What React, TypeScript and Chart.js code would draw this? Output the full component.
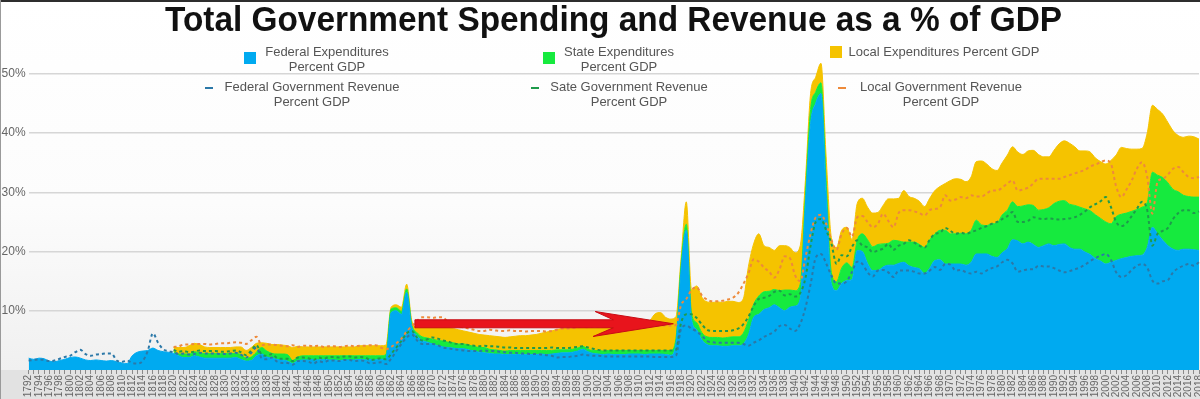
import React, { useEffect, useRef } from 'react';
import { Chart, registerables } from 'chart.js';

Chart.register(...registerables);

const FONT = '"Liberation Sans", Arial, Helvetica, sans-serif';
const TITLE = 'Total Government Spending and Revenue as a % of GDP';
const FIRST_YEAR = 1792;
const YEAR_COUNT = 227; // 1792 .. 2018
const YEARS: string[] = Array.from({ length: YEAR_COUNT }, (_, i) => String(FIRST_YEAR + i));
const Y_TICKS = [10, 20, 30, 40, 50];

const SERIES_LINES: string[][] = [
  ['Federal Expenditures', 'Percent GDP'],
  ['State Expenditures', 'Percent GDP'],
  ['Local Expenditures Percent GDP'],
  ['Federal Government Revenue', 'Percent GDP'],
  ['Sate Government Revenue', 'Percent GDP'],
  ['Local Government Revenue', 'Percent GDP'],
];

const COLORS = ['#00AAF0', '#16EA3E', '#F5C300', '#2B78A8', '#1E9B4B', '#EE8A3A'];

// ---- Expenditures (% of GDP, stacked) ----
const fedExp: number[] = [
  2.0, 1.8, 2.0, 1.9, 1.5, 1.4, 1.6, 1.8, 2.1, 2.2, // 1792-1801
  2.0, 1.7, 1.6, 1.7, 1.6, 1.5, 1.6, 1.4, 1.2, 1.1, // 1802-1811
  2.4, 3.0, 3.2, 3.3, 3.7, 3.3, 3.1, 3.0, // 1812-1819
  2.8, 2.4, 2.1, 2.1, 2.4, 2.2, 2.0, 2.0, 2.0, 2.0, // 1820s
  2.0, 2.0, 2.1, 1.8, 1.5, 1.6, 2.4, 2.7, 2.2, 2.0, // 1830s
  1.8, 1.7, 1.5, 1.1, 1.6, 1.7, 1.7, 1.8, 1.7, 1.8, // 1840s
  1.7, 1.7, 1.6, 1.7, 1.7, 1.7, 1.8, 1.7, 1.8, 1.7, // 1850s
  1.8, 2.0, 9.7, 10.0, 9.4, 13.1, 7.2, 5.8, 5.0, 4.7, // 1860s
  4.4, 4.1, 3.9, 3.8, 3.7, 3.6, 3.6, 3.4, 3.2, 3.0, // 1870s
  2.9, 2.8, 2.7, 2.7, 2.6, 2.6, 2.6, 2.6, 2.6, 2.6, // 1880s
  2.6, 2.7, 2.6, 2.7, 2.8, 2.9, 2.9, 3.0, 3.2, 3.5, // 1890s
  3.1, 2.8, 2.7, 2.6, 2.7, 2.6, 2.6, 2.6, 2.7, 2.7, // 1900s
  2.7, 2.6, 2.7, 2.7, 2.7, 2.6, 2.5, 4.5, 17.0, 23.6, // 1910s
  8.6, 6.8, 5.1, 4.3, 4.1, 4.1, 4.0, 4.0, 4.1, 4.1, // 1920s
  4.4, 5.9, 8.9, 9.4, 10.2, 10.5, 11.0, 10.5, 10.0, 10.6, // 1930s
  10.8, 12.0, 28.0, 41.6, 45.1, 46.7, 30.0, 14.6, 13.4, 14.6, // 1940s
  15.1, 15.3, 20.2, 20.0, 18.0, 16.8, 16.8, 17.4, 17.7, 17.7, // 1950s
  18.0, 18.2, 17.6, 17.3, 17.1, 16.3, 17.2, 18.5, 18.6, 17.9, // 1960s
  17.9, 17.9, 17.9, 17.7, 18.2, 19.6, 19.6, 19.6, 19.2, 19.0, // 1970s
  19.8, 20.5, 22.0, 21.8, 21.3, 21.6, 21.2, 20.7, 21.0, 21.3, // 1980s
  21.0, 21.2, 21.3, 20.7, 20.4, 20.4, 19.9, 19.5, 18.8, 18.4, // 1990s
  17.9, 18.2, 18.5, 18.8, 19.0, 19.2, 19.3, 19.4, 20.7, 24.1, // 2000s
  23.0, 21.9, 21.0, 20.4, 20.2, 20.4, 20.4, 20.3, 20.2, // 2010-2018
];

const stateExp: (number | null)[] = [
  null, null, null, null, null, null, null, null, null, null,
  null, null, null, null, null, null, null, null, null, null,
  null, null, null, null, null, null, null, null,
  0.3, 0.3, 0.6, 0.6, 0.7, 0.7, 0.8, 0.8, 0.8, 0.8,
  0.8, 0.8, 0.7, 0.8, 0.5, 0.6, 0.6, 1.1, 1.0, 0.8,
  0.9, 1.0, 1.1, 0.5, 0.6, 0.7, 0.7, 0.6, 0.7, 0.6,
  0.7, 0.7, 0.8, 0.7, 0.7, 0.7, 0.6, 0.7, 0.6, 0.7,
  0.6, 0.6, 0.6, 0.5, 0.5, 0.6, 0.5, 0.5, 0.6, 0.7,
  0.8, 0.9, 1.0, 0.9, 0.9, 0.8, 0.8, 0.8, 0.8, 0.8,
  0.9, 0.7, 0.7, 0.6, 0.6, 0.7, 0.7, 0.7, 0.7, 0.7,
  0.7, 0.6, 0.7, 0.6, 0.6, 0.5, 0.5, 0.5, 0.5, 0.5,
  0.4, 0.5, 0.6, 0.6, 0.6, 0.7, 0.7, 0.7, 0.6, 0.6,
  0.6, 0.7, 0.6, 0.6, 0.6, 0.7, 0.8, 0.8, 1.0, 1.0,
  1.0, 1.2, 1.2, 1.3, 1.4, 1.4, 1.4, 1.5, 1.5, 1.5,
  1.8, 2.5, 2.2, 3.1, 3.0, 2.8, 2.6, 2.9, 3.5, 2.9,
  2.6, 2.5, 1.5, 2.4, 1.9, 1.8, 2.0, 1.9, 1.5, 2.6,
  3.0, 2.0, 1.7, 3.0, 4.0, 4.0, 4.4, 3.9, 3.7, 4.2,
  3.8, 3.4, 4.0, 4.3, 4.1, 4.4, 4.8, 4.5, 5.0, 5.7,
  5.1, 5.1, 5.2, 5.3, 5.4, 5.7, 4.9, 4.8, 5.5, 5.8,
  6.4, 6.5, 6.4, 5.8, 6.4, 6.3, 6.6, 6.3, 6.1, 6.1,
  7.1, 7.3, 7.3, 7.3, 7.4, 7.1, 7.3, 7.4, 7.4, 7.2,
  7.1, 6.5, 7.4, 7.5, 7.5, 7.6, 7.8, 8.1, 7.6, 9.3,
  9.9, 10.6, 10.6, 10.1, 9.9, 9.1, 8.9, 8.9, 9.0,
];

const localExp: (number | null)[] = [
  null, null, null, null, null, null, null, null, null, null,
  null, null, null, null, null, null, null, null, null, null,
  null, null, null, null, null, null, null, null,
  0.7, 1.1, 1.1, 1.4, 1.4, 1.4, 1.1, 1.0, 1.0, 1.0,
  1.0, 1.0, 1.1, 1.3, 1.3, 1.6, 1.5, 0.8, 1.3, 1.5,
  1.6, 1.5, 1.5, 2.2, 1.8, 1.5, 1.5, 1.5, 1.5, 1.5,
  1.5, 1.5, 1.5, 1.5, 1.5, 1.5, 1.7, 1.7, 1.7, 1.7,
  1.7, 1.6, 0.3, 0.5, 0.7, 0.8, 0.6, 0.9, 1.7, 2.0,
  2.2, 2.3, 2.4, 2.5, 2.4, 2.4, 2.2, 2.2, 2.2, 2.2,
  2.1, 2.3, 2.3, 2.3, 2.3, 2.3, 2.4, 2.5, 2.5, 2.6,
  2.7, 2.9, 3.1, 3.3, 3.4, 3.6, 3.6, 3.6, 3.5, 3.4,
  3.7, 3.8, 3.8, 4.0, 4.0, 4.0, 4.0, 4.1, 4.3, 4.3,
  4.3, 4.4, 5.1, 6.2, 6.4, 5.6, 5.3, 3.7, 1.0, 3.8,
  4.0, 6.2, 6.0, 5.9, 5.9, 6.0, 6.0, 6.1, 6.0, 5.8,
  5.8, 9.1, 10.2, 10.5, 7.8, 7.4, 6.6, 7.6, 7.5, 7.2,
  6.4, 6.5, 2.5, 2.7, 2.5, 3.3, 4.0, 5.9, 5.8, 6.4,
  6.0, 4.7, 6.2, 6.0, 5.5, 5.7, 5.4, 6.5, 7.5, 7.0,
  7.2, 8.7, 7.7, 7.4, 7.3, 6.9, 7.0, 7.3, 7.4, 7.9,
  9.0, 9.3, 9.1, 8.8, 9.0, 9.9, 10.8, 10.4, 9.3, 8.9,
  8.8, 9.3, 9.3, 9.2, 8.7, 9.1, 9.3, 9.4, 8.9, 8.6,
  9.0, 9.7, 10.1, 10.3, 9.9, 9.5, 9.8, 9.9, 9.6, 9.6,
  9.8, 10.7, 10.4, 11.3, 10.9, 10.5, 10.2, 9.9, 11.7, 11.3,
  11.1, 10.7, 10.2, 9.9, 9.5, 9.8, 10.2, 10.2, 9.8,
];

// ---- Revenues (% of GDP, stacked) ----
const fedRev: number[] = [
  1.6, 1.7, 1.8, 1.7, 1.5, 1.6, 1.9, 2.2, 2.4, 3.0,
  3.4, 2.7, 2.4, 2.6, 2.7, 2.8, 2.8, 1.6, 1.4, 1.6,
  1.2, 1.1, 1.5, 3.2, 6.2, 4.6, 3.5, 3.2,
  3.0, 2.7, 2.8, 2.6, 2.7, 2.9, 2.8, 2.8, 2.8, 2.7,
  2.7, 2.8, 2.9, 2.6, 2.1, 2.9, 3.8, 2.0, 1.8, 2.1,
  1.4, 1.2, 1.2, 0.9, 1.5, 1.5, 1.4, 1.1, 1.5, 1.3,
  1.6, 1.6, 1.5, 1.7, 1.7, 1.5, 1.6, 1.5, 1.1, 1.2,
  1.3, 1.0, 1.9, 3.2, 4.4, 5.5, 6.0, 5.0, 4.4, 4.4,
  4.4, 4.2, 3.8, 3.7, 3.5, 3.4, 3.3, 3.2, 3.2, 3.2,
  3.3, 3.2, 3.2, 3.1, 3.0, 2.9, 2.9, 2.8, 2.8, 2.7,
  2.7, 2.6, 2.5, 2.4, 2.1, 2.2, 2.2, 2.3, 2.4, 2.6,
  2.5, 2.4, 2.4, 2.3, 2.3, 2.3, 2.3, 2.3, 2.3, 2.3,
  2.3, 2.3, 2.3, 2.2, 2.2, 2.2, 2.2, 2.4, 7.0, 7.5,
  7.0, 6.5, 5.8, 4.9, 4.7, 4.6, 4.6, 4.6, 4.6, 4.6,
  4.4, 4.1, 4.6, 5.0, 5.6, 6.0, 6.5, 7.4, 7.6, 7.0,
  6.6, 7.8, 10.5, 14.5, 19.0, 19.6, 18.0, 16.0, 14.6, 14.6,
  15.0, 16.6, 18.3, 17.9, 16.5, 15.8, 16.8, 16.9, 16.5, 15.7,
  16.8, 16.8, 16.8, 16.6, 16.3, 16.3, 16.8, 17.4, 16.9, 17.9,
  17.8, 16.8, 16.9, 16.5, 16.3, 16.6, 16.3, 16.8, 17.2, 17.5,
  18.2, 18.6, 18.0, 16.6, 16.8, 17.0, 17.0, 17.6, 17.5, 17.5,
  17.2, 16.8, 16.5, 16.7, 17.0, 17.3, 17.8, 18.4, 18.9, 19.3,
  19.6, 18.6, 16.5, 15.7, 16.0, 16.9, 17.6, 17.9, 17.3, 15.1,
  14.6, 15.0, 15.2, 16.5, 17.2, 17.6, 17.9, 17.6, 18.2,
];

const stateRev: (number | null)[] = [
  null, null, null, null, null, null, null, null, null, null,
  null, null, null, null, null, null, null, null, null, null,
  null, null, null, null, null, null, null, null,
  0.4, 0.4, 0.4, 0.4, 0.4, 0.4, 0.4, 0.4, 0.4, 0.4,
  0.4, 0.4, 0.4, 0.4, 0.4, 0.4, 0.4, 0.6, 0.6, 0.6,
  0.6, 0.7, 0.7, 0.6, 0.6, 0.6, 0.6, 0.6, 0.6, 0.6,
  0.6, 0.6, 0.6, 0.6, 0.6, 0.6, 0.6, 0.6, 0.6, 0.6,
  0.7, 0.8, 0.8, 0.6, 0.5, 0.7, 0.6, 0.5, 0.6, 0.8,
  1.1, 1.1, 1.2, 1.1, 1.0, 1.0, 1.1, 1.0, 0.9, 0.8,
  0.8, 0.8, 0.8, 0.8, 0.8, 0.9, 0.8, 0.9, 0.9, 1.0,
  1.0, 1.1, 1.2, 1.4, 1.6, 1.5, 1.5, 1.5, 1.5, 1.4,
  1.3, 1.2, 1.0, 1.0, 1.0, 1.0, 1.0, 1.0, 1.0, 1.0,
  1.0, 1.0, 1.0, 1.1, 1.1, 1.1, 1.1, 1.0, 1.0, 1.9,
  2.4, 2.3, 1.9, 1.9, 1.9, 2.0, 2.0, 2.0, 2.1, 2.4,
  3.3, 4.9, 6.2, 7.0, 6.6, 6.5, 6.7, 6.0, 5.0, 5.8,
  5.8, 5.2, 5.0, 6.5, 6.0, 5.9, 5.6, 5.4, 3.3, 4.8,
  4.2, 4.2, 3.6, 3.1, 4.2, 4.1, 3.4, 3.6, 4.8, 4.6,
  4.2, 4.5, 5.1, 4.9, 4.7, 4.4, 5.2, 5.6, 6.3, 6.1,
  5.7, 6.2, 6.3, 6.5, 7.0, 7.0, 7.7, 7.5, 7.5, 7.5,
  7.3, 7.4, 8.7, 8.4, 8.2, 8.2, 8.8, 8.0, 8.0, 8.1,
  8.3, 8.6, 9.0, 8.9, 8.8, 8.9, 9.0, 9.1, 9.1, 9.2,
  9.6, 8.9, 8.5, 8.6, 8.8, 9.1, 9.6, 10.5, 9.7, 5.9,
  8.4, 8.5, 8.8, 9.0, 9.3, 9.4, 9.1, 8.9, 8.6,
];

const localRev: (number | null)[] = [
  null, null, null, null, null, null, null, null, null, null,
  null, null, null, null, null, null, null, null, null, null,
  null, null, null, null, null, null, null, null,
  0.5, 0.9, 1.1, 1.3, 1.3, 1.1, 1.2, 1.1, 1.2, 1.4,
  1.4, 1.4, 1.4, 1.6, 1.9, 1.7, 1.4, 1.6, 1.9, 1.6,
  2.2, 2.2, 2.1, 2.7, 1.8, 2.0, 2.1, 2.3, 2.0, 2.0,
  1.8, 1.8, 1.8, 1.7, 1.8, 1.9, 1.9, 2.0, 2.5, 2.4,
  1.8, 1.7, 1.2, 0.7, 0.4, 0.3, 0.8, 2.8, 3.9, 3.7,
  3.3, 3.6, 3.9, 3.2, 3.0, 3.0, 2.8, 2.8, 2.7, 2.6,
  2.5, 2.8, 2.7, 2.7, 2.8, 2.9, 2.9, 2.9, 2.8, 2.9,
  2.9, 2.9, 2.8, 2.8, 3.1, 3.3, 3.3, 3.3, 3.3, 3.3,
  3.4, 3.7, 3.9, 4.0, 4.0, 4.0, 4.0, 4.0, 4.1, 4.1,
  4.1, 4.1, 4.1, 4.1, 4.2, 4.2, 4.2, 4.2, 3.0, 2.6,
  4.1, 5.2, 4.9, 5.1, 5.0, 5.0, 5.1, 5.3, 5.5, 6.0,
  6.8, 7.3, 7.9, 6.3, 5.1, 4.1, 2.4, 3.6, 6.6, 6.1,
  3.6, 2.0, 3.5, 2.0, 0.8, 0.7, 1.1, 0.6, 2.4, 3.6,
  4.8, 1.7, 3.9, 5.0, 4.3, 4.2, 4.5, 5.9, 3.9, 3.8,
  5.5, 5.7, 5.1, 5.3, 5.5, 5.4, 5.0, 4.2, 4.3, 5.5,
  5.1, 5.8, 6.0, 6.0, 6.2, 5.7, 5.3, 5.5, 5.6, 5.3,
  5.3, 5.5, 5.3, 5.3, 5.5, 5.6, 5.7, 6.7, 6.8, 6.7,
  6.8, 6.9, 7.1, 7.3, 7.4, 7.3, 7.0, 6.9, 6.7, 6.6,
  6.2, 7.3, 6.0, 4.9, 5.7, 6.0, 6.8, 6.7, 5.6, 5.4,
  8.8, 8.8, 9.0, 8.5, 7.8, 6.4, 5.6, 5.9, 5.8,
];

// Red annotation arrow, in data units (year, % of GDP)
const ARROW_POINTS: [number, number][] = [
  [1866.6, 8.48], [1904.9, 8.48], [1901.4, 9.88], [1916.5, 7.81],
  [1901.0, 5.66], [1904.9, 7.13], [1866.6, 7.13],
];

// Legend layout (canvas pixels)
const LEGEND_ITEMS = [
  { ds: 0, kind: 'box', ix: 244, iy: 52, cx: 327, y0: 52 },
  { ds: 1, kind: 'box', ix: 543, iy: 52, cx: 619, y0: 52 },
  { ds: 2, kind: 'box', ix: 830, iy: 46, cx: 944, y0: 52 },
  { ds: 3, kind: 'dash', ix: 205, iy: 88, cx: 312, y0: 87 },
  { ds: 4, kind: 'dash', ix: 531, iy: 88, cx: 629, y0: 87 },
  { ds: 5, kind: 'dash', ix: 838, iy: 88, cx: 941, y0: 87 },
];

const decorPlugin = {
  id: 'decor',
  beforeDraw(chart: any) {
    const { ctx, chartArea, width, height } = chart;
    ctx.save();
    const g = ctx.createLinearGradient(0, 0, 0, chartArea.bottom);
    g.addColorStop(0, '#ffffff');
    g.addColorStop(0.55, '#fcfcfc');
    g.addColorStop(1, '#f0f0f0');
    ctx.fillStyle = g;
    ctx.fillRect(0, 0, width, chartArea.bottom);
    ctx.fillStyle = '#e2e2e2';
    ctx.fillRect(0, chartArea.bottom, width, height - chartArea.bottom);
    ctx.restore();
  },
  afterDatasetsDraw(chart: any) {
    const { ctx } = chart;
    const xs = chart.scales.x;
    const ys = chart.scales.y;
    ctx.save();
    ctx.beginPath();
    ARROW_POINTS.forEach(([yr, v], i) => {
      const px = xs.getPixelForValue(yr - FIRST_YEAR);
      const py = ys.getPixelForValue(v);
      if (i === 0) ctx.moveTo(px, py);
      else ctx.lineTo(px, py);
    });
    ctx.closePath();
    ctx.fillStyle = '#E8141C';
    ctx.fill();
    ctx.lineWidth = 1;
    ctx.strokeStyle = '#C80C14';
    ctx.stroke();
    ctx.restore();
  },
  afterDraw(chart: any) {
    const { ctx, width, height } = chart;
    ctx.save();
    // title
    ctx.fillStyle = '#111111';
    ctx.font = `bold 35px ${FONT}`;
    ctx.textAlign = 'center';
    ctx.textBaseline = 'alphabetic';
    ctx.fillText(TITLE, 613.5, 31, 897);
    // legend
    ctx.font = `13px ${FONT}`;
    ctx.textBaseline = 'middle';
    LEGEND_ITEMS.forEach((it) => {
      const color = COLORS[it.ds];
      ctx.fillStyle = color;
      if (it.kind === 'box') ctx.fillRect(it.ix, it.iy, 12, 12);
      else ctx.fillRect(it.ix, it.iy - 1, 8, 2);
      ctx.fillStyle = '#555555';
      ctx.textAlign = 'center';
      SERIES_LINES[it.ds].forEach((line, li) => {
        ctx.fillText(line, it.cx, it.y0 + li * 15);
      });
    });
    // frame edges (screen capture borders)
    ctx.fillStyle = '#2e2e2e';
    ctx.fillRect(0, 0, width, 2);
    ctx.fillStyle = '#9a9a9a';
    ctx.fillRect(0, 0, 1, height);
    ctx.restore();
  },
};

export default function App() {
  const canvasRef = useRef<HTMLCanvasElement | null>(null);

  useEffect(() => {
    document.body.style.margin = '0';
    const canvas = canvasRef.current;
    if (!canvas) return;

    const area = (data: (number | null)[], idx: number, fill: any) => ({
      type: 'line' as const,
      label: SERIES_LINES[idx].join(' '),
      data,
      stack: 'exp',
      fill,
      backgroundColor: COLORS[idx],
      borderColor: COLORS[idx],
      borderWidth: 1,
      pointRadius: 0,
      cubicInterpolationMode: 'monotone' as const,
      order: 2,
    });
    const rev = (data: (number | null)[], idx: number) => ({
      type: 'line' as const,
      label: SERIES_LINES[idx].join(' '),
      data,
      stack: 'rev',
      fill: false,
      borderColor: COLORS[idx],
      backgroundColor: COLORS[idx],
      borderWidth: 2,
      borderDash: [3, 3],
      pointRadius: 0,
      cubicInterpolationMode: 'monotone' as const,
      order: 1,
    });

    const chart = new Chart(canvas, {
      type: 'line',
      data: {
        labels: YEARS,
        datasets: [
          area(fedExp, 0, 'origin'),
          area(stateExp, 1, '-1'),
          area(localExp, 2, '-1'),
          rev(fedRev, 3),
          rev(stateRev, 4),
          rev(localRev, 5),
        ] as any,
      },
      options: {
        animation: false,
        responsive: true,
        maintainAspectRatio: false,
        layout: { padding: { top: 14.75, right: 1, left: 0, bottom: 0 } },
        plugins: {
          legend: { display: false },
          title: { display: false },
          tooltip: { enabled: false },
        },
        elements: { point: { radius: 0 } },
        scales: {
          x: {
            grid: {
              display: true,
              drawOnChartArea: false,
              drawTicks: true,
              tickLength: 4,
              color: '#8a8a8a',
              lineWidth: 1,
            },
            border: { display: false },
            ticks: {
              autoSkip: false,
              maxRotation: 90,
              minRotation: 90,
              padding: 1,
              color: '#666666',
              font: { size: 10, family: FONT },
              callback: (_v: any, i: number) => (Number(YEARS[i]) % 2 === 0 ? YEARS[i] : ''),
            },
            afterFit: (s: any) => {
              s.height = 29;
              s.paddingLeft = 0;
              s.paddingRight = 0;
            },
          },
          y: {
            stacked: true,
            min: 0,
            max: 60,
            afterBuildTicks: (s: any) => {
              s.ticks = Y_TICKS.map((v) => ({ value: v }));
            },
            grid: { color: '#d6d6d6', lineWidth: 1.5, drawTicks: false },
            border: { display: false },
            ticks: {
              padding: 3,
              color: '#666666',
              font: { size: 12, family: FONT },
              callback: (v: any) => `${v}%`,
            },
            afterFit: (s: any) => {
              s.width = 28.6;
              s.paddingTop = 0;
              s.paddingBottom = 0;
            },
          },
        },
      } as any,
      plugins: [decorPlugin],
    });

    return () => chart.destroy();
  }, []);

  return (
    <div style={{ width: 1200, height: 399, position: 'relative' }}>
      <canvas ref={canvasRef} />
    </div>
  );
}
